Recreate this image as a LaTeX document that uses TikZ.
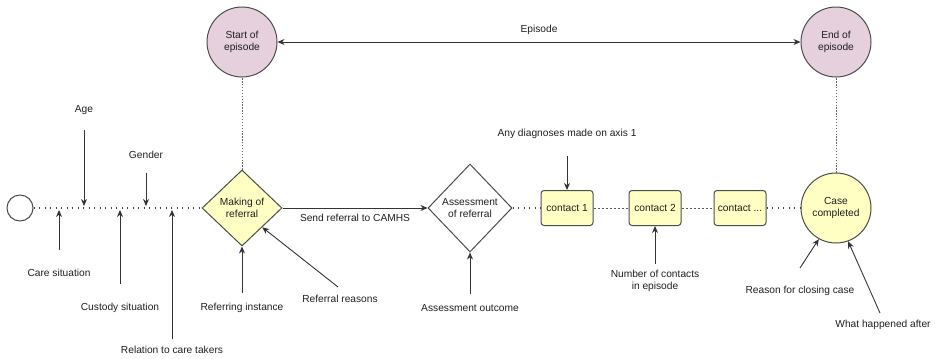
\documentclass[tikz,border=0pt]{standalone}
\usepackage{fontspec}
\setmainfont{Liberation Sans}
\usetikzlibrary{shapes.geometric,arrows.meta,positioning}
\definecolor{epipink}{HTML}{E6D0DE}
\definecolor{noteyel}{HTML}{FFFFC4}

\begin{document}
\begin{tikzpicture}[x=1pt,y=-1pt,
            every node/.style={font=\fontsize{10.2}{12}\selectfont,text=black!88,align=center},
            pnt/.style={-{Stealth[length=7pt,width=6pt]},draw=black!80,line width=0.9pt},
            tline/.style={draw=black!75,line width=1.2pt,dash pattern=on 1.3pt off 4.2pt},
            vline/.style={draw=black!60,line width=1pt,dash pattern=on 1.3pt off 1.6pt},
            cline/.style={draw=black!65,line width=0.9pt,dash pattern=on 2pt off 2pt},
            epi/.style={circle,draw=black!70,line width=1pt,fill=epipink,minimum size=70pt,inner sep=0pt},
            dia/.style={diamond,draw=black!70,line width=1pt,inner sep=0pt},
            cbox/.style={rectangle,rounded corners=3pt,draw=black!70,line width=1pt,fill=noteyel,minimum width=52pt,minimum height=35pt,inner sep=1pt}]
  \useasboundingbox (0,0) rectangle (938,359);

  % main line
  \node[circle,draw=black!70,line width=1pt,minimum size=26pt] (init) at (20,208) {};
  \node[dia,fill=noteyel,minimum width=80pt,minimum height=76pt] (make) at (242,208) {Making of\\referral};
  \node[dia,fill=white,minimum width=84pt,minimum height=88pt] (assess) at (470,208) {Assessment\\of referral};
  \node[cbox] (c1) at (567,208) {contact 1};
  \node[cbox] (c2) at (655,208) {contact 2};
  \node[cbox] (c3) at (740,208) {contact ...};
  \node[epi,fill=noteyel] (done) at (836,208) {Case\\completed};

  % episode
  \node[epi] (start) at (242,42) {Start of\\episode};
  \node[epi] (end) at (836,42) {End of\\episode};
  \draw[{Stealth[length=7pt,width=6pt]}-{Stealth[length=7pt,width=6pt]},draw=black!80,line width=1pt] (start) -- node[above=4pt] (epil) {Episode} (end);

  \draw[tline] (init) -- (make);
  \draw[pnt] (make) -- node[below=2pt] (sendl) {Send referral to CAMHS} (assess);
  \draw[tline] (assess) -- (c1);
  \draw[cline] (c1) -- (c2);
  \draw[cline] (c2) -- (c3);
  \draw[tline] (c3) -- (done);
  \draw[vline] (make.north) -- (start.south);
  \draw[vline] (done.north) -- (end.south);

  % variables
  \node (age) at (84,110) {Age};
  \node (gender) at (146,155) {Gender};
  \node (care) at (59,273) {Care situation};
  \node (custody) at (120,308) {Custody situation};
  \node (relation) at (172,350) {Relation to care takers};
  \node (refinst) at (242,308) {Referring instance};
  \node (reasons) at (340,299) {Referral reasons};
  \node (outcome) at (470,308) {Assessment outcome};
  \node (diag) at (567,134) {Any diagnoses made on axis 1};
  \node (ncont) at (655,281) {Number of contacts\\in episode};
  \node (closing) at (800,291) {Reason for closing case};
  \node (after) at (883,325) {What happened after};
  \coordinate (reasons0) at (338,287);
  \coordinate (closing0) at (800,268);
  \coordinate (after0) at (880,313);

  \draw[pnt,shorten <=12pt,shorten >=2pt] (age) -- (age |- init);
  \draw[pnt,shorten <=11pt,shorten >=2pt] (gender) -- (gender |- init);
  \draw[pnt,shorten <=16pt,shorten >=2pt] (care) -- (care |- init);
  \draw[pnt,shorten <=16pt,shorten >=2pt] (custody) -- (custody |- init);
  \draw[pnt,shorten <=4pt,shorten >=2pt] (relation) -- (relation |- init);
  \draw[pnt,shorten <=7pt] (refinst) -- (make.south);
  \draw[pnt] (reasons0) -- (make.south east);
  \draw[pnt,shorten <=7pt] (outcome) -- (assess.south);
  \draw[pnt,shorten <=14pt] (diag) -- (c1.north);
  \draw[pnt,shorten <=3pt] (ncont) -- (c2.south);
  \draw[pnt] (closing0) -- (done.241);
  \draw[pnt] (after0) -- (done.290);
\end{tikzpicture}
\end{document}
